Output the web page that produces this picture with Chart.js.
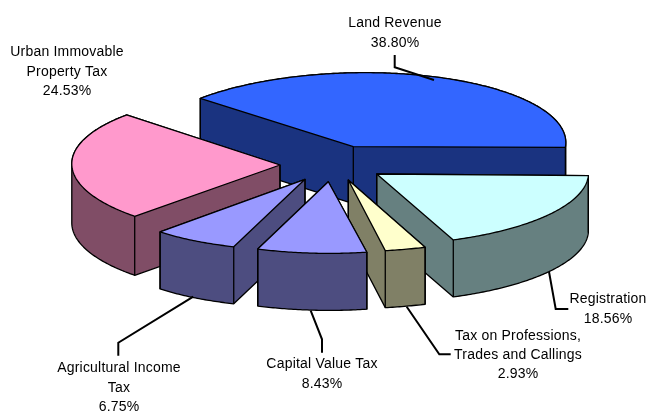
<!DOCTYPE html>
<html>
<head>
<meta charset="utf-8">
<style>
html,body{margin:0;padding:0;background:#fff;overflow:hidden}
canvas{display:block}
</style>
<script src="https://cdn.jsdelivr.net/npm/chart.js@4"></script>
</head>
<body>
<canvas id="c" width="649" height="413"></canvas>
<script>
const categories = ['Land Revenue','Registration','Tax on Professions, Trades and Callings','Capital Value Tax','Agricultural Income Tax','Urban Immovable Property Tax'];
const labelLines = [['Land Revenue'],['Registration'],['Tax on Professions,','Trades and Callings'],['Capital Value Tax'],['Agricultural Income','Tax'],['Urban Immovable','Property Tax']];
const values = [38.80,18.56,2.93,8.43,6.75,24.53];
const topColors = ['#3366FF','#CCFFFF','#FFFFCC','#9999FF','#9999FF','#FF99CC'];
const wallColors = ['#1A3380','#668080','#808066','#4D4D80','#4D4D80','#804D66'];

// 3-D projection of each exploded slice: shift from pie centre and projected axes
const sliceShift = [[28.8,-59.8],[52.2,-32.5],[23.8,-26.5],[3.8,-24.8],[-19.5,-27.2],[-44.5,-41.5]];
const sliceAxes  = [[212,1,-14.6,74],[211.6,2,-8.5,71],[224,4,-13.6,71.6],[208.9,3.2,-8.5,71.6],[206.8,0.3,-9.9,70.8],[208,4.4,-9.3,72.6]];
const depth = [57,57,57,57,57,59];
const paintOrder = [0,5,1,2,4,3];

// label placement
const labelCentre = [[395,23.5],[608,299.5],[518,336],[322,364.5],[119,368.5],[67,52.5]];
const leaders = [
  [[394.7,55],[394.7,67.3],[434,80]],
  [[549,271.7],[555.7,309],[568.3,309]],
  [[406.7,306.7],[439.3,354.3],[450.7,354.3]],
  [[310.7,310.7],[322,339.3],[322,352.7]],
  [[193.3,296.7],[118.3,342.7],[118.3,355.7]],
  []
];

function convexHull(points){
  const pts = points.slice().sort((a,b)=>a[0]-b[0]||a[1]-b[1]);
  const cross = (o,a,b)=>(a[0]-o[0])*(b[1]-o[1])-(a[1]-o[1])*(b[0]-o[0]);
  const half = list=>{
    const h=[];
    list.forEach(q=>{
      while(h.length>1 && cross(h[h.length-2],h[h.length-1],q)<=0) h.pop();
      h.push(q);
    });
    h.pop();
    return h;
  };
  return half(pts).concat(half(pts.slice().reverse()));
}

const pie3d = {
  id:'pie3d',
  beforeDatasetsDraw(chart){
    const ctx = chart.ctx;
    const arcs = chart.getDatasetMeta(0).data;
    paintOrder.forEach(i=>{
      const arc = arcs[i];
      const p = arc.getProps(['x','y','startAngle','endAngle','outerRadius']);
      const R = p.outerRadius, ax = sliceAxes[i], sh = sliceShift[i], t = depth[i];
      const project = (ux,uy)=>[p.x+sh[0]+ax[0]*ux+ax[2]*uy, p.y+sh[1]+ax[1]*ux+ax[3]*uy];
      // wedge outline from the arc element's own geometry
      const rim = [];
      const n = Math.ceil((p.endAngle-p.startAngle)*90);
      for(let k=0;k<=n;k++){
        const a = p.startAngle+(p.endAngle-p.startAngle)*k/n;
        rim.push(project(Math.cos(a),Math.sin(a)));
      }
      const apex = project(0,0);
      const wedge = [apex].concat(rim);
      const hull = convexHull(wedge.concat(wedge.map(q=>[q[0],q[1]+t])));
      // walls
      ctx.beginPath();
      hull.forEach((q,k)=> k?ctx.lineTo(q[0],q[1]):ctx.moveTo(q[0],q[1]));
      ctx.closePath();
      ctx.fillStyle = wallColors[i];
      ctx.fill();
      ctx.strokeStyle='#000'; ctx.lineWidth=1.3; ctx.lineJoin='round';
      ctx.stroke();
      // vertical edges
      [apex,rim[0],rim[rim.length-1]].forEach(q=>{
        ctx.beginPath(); ctx.moveTo(q[0],q[1]); ctx.lineTo(q[0],q[1]+t); ctx.stroke();
      });
      // top face drawn by the library's arc element
      ctx.save();
      ctx.translate(p.x+sh[0], p.y+sh[1]);
      ctx.transform(ax[0]/R,ax[1]/R,ax[2]/R,ax[3]/R,0,0);
      ctx.translate(-p.x,-p.y);
      arc.draw(ctx);
      ctx.restore();
      ctx.beginPath();
      wedge.forEach((q,k)=> k?ctx.lineTo(q[0],q[1]):ctx.moveTo(q[0],q[1]));
      ctx.closePath();
      ctx.stroke();
    });
    return false;
  },
  afterDraw(chart){
    const ctx = chart.ctx;
    ctx.save();
    ctx.strokeStyle='#000'; ctx.lineWidth=2; ctx.lineJoin='miter';
    leaders.forEach(pts=>{
      if(!pts.length) return;
      ctx.beginPath();
      pts.forEach((q,k)=> k?ctx.lineTo(q[0],q[1]):ctx.moveTo(q[0],q[1]));
      ctx.stroke();
    });
    ctx.fillStyle='#000';
    ctx.font='14px "Liberation Sans", Arial, sans-serif';
    ctx.letterSpacing='0.2px';
    ctx.textAlign='center'; ctx.textBaseline='middle';
    labelLines.forEach((lines,i)=>{
      const all = lines.concat(values[i].toFixed(2)+'%');
      all.forEach((s,k)=> ctx.fillText(s,labelCentre[i][0],labelCentre[i][1]+k*19.3));
    });
    ctx.restore();
  }
};

new Chart(document.getElementById('c'),{
  type:'pie',
  data:{labels:categories,datasets:[{data:values,backgroundColor:topColors,borderWidth:0}]},
  options:{
    responsive:false,animation:false,rotation:-50,
    layout:{padding:0},
    plugins:{legend:{display:false},tooltip:{enabled:false}}
  },
  plugins:[pie3d]
});
</script>
</body>
</html>
